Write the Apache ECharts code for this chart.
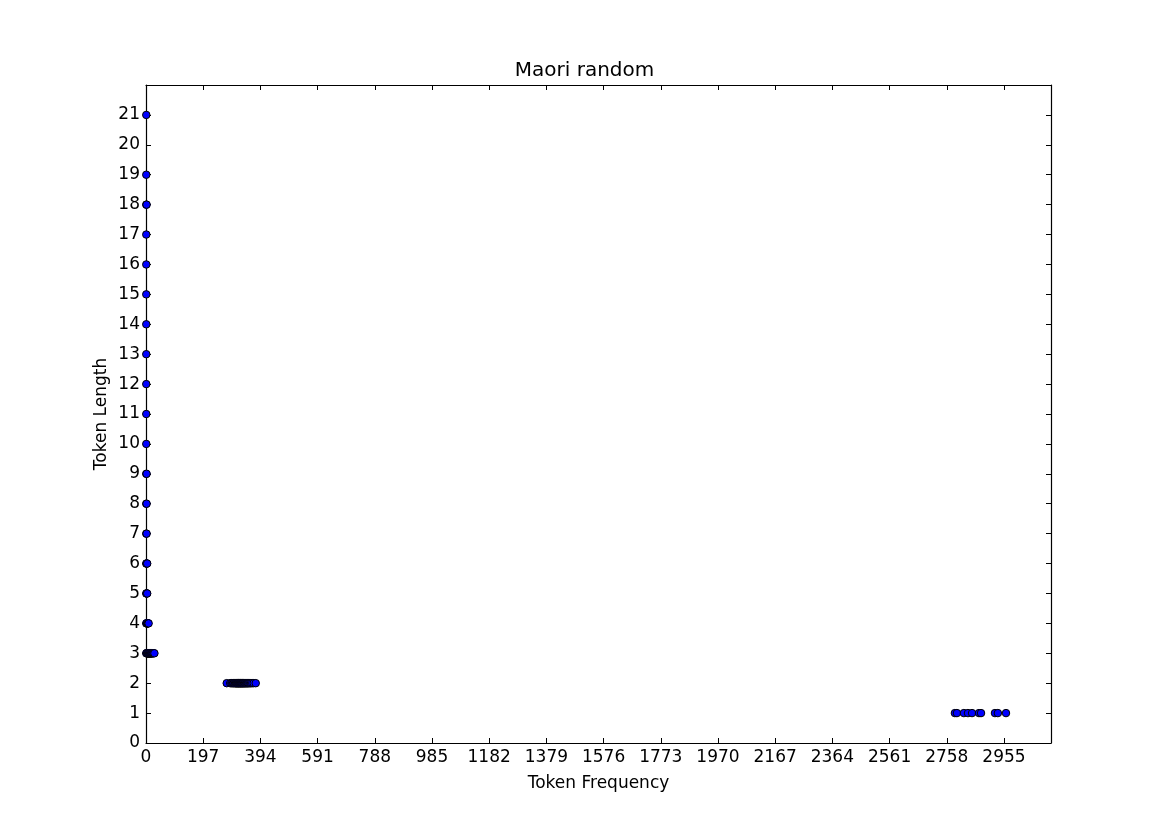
<!DOCTYPE html>
<html>
	<head>
		<meta charset="UTF-8">
		<title>Maori random</title>
		<script src="https://cdn.jsdelivr.net/npm/echarts@6/dist/echarts.min.js"></script>
		<style type="text/css">
			html, body { margin: 0; padding: 0; background: #fff; }
			#chart { width: 1169px; height: 827px; }
		</style>
	</head>
	<body>
		<div id="chart"></div>
		<script>
		// token frequency values, one list per token length
		var len1 = [2786, 2793, 2817, 2831, 2845, 2869, 2876, 2924, 2934, 2962];
		var len2 = [278, 290, 294, 297, 300, 302, 305, 307, 309, 310, 312, 313, 315, 316, 318,
			319, 320, 322, 323, 325, 326, 327, 329, 330, 332, 333, 335, 336, 338, 340,
			341, 343, 345, 347, 349, 351, 353, 356, 359, 362, 366, 371, 378];
		var len3 = [1, 2, 3, 4, 5, 6, 7, 8, 9, 10, 11, 12, 13, 14, 15, 16, 17, 18, 19, 20, 22, 24, 26, 29];
		var len4 = [1, 2, 3, 4, 5, 6, 7, 9];
		var len5 = [1, 2, 3, 4];
		var len6 = [1, 2, 3, 4];
		var len7 = [1, 2];
		var len8 = [1, 2];
		var len9 = [1, 2];
		var len10 = [1];
		var len11 = [1];
		var len12 = [1];
		var len13 = [1];
		var len14 = [1];
		var len15 = [1];
		var len16 = [1];
		var len17 = [1];
		var len18 = [1, 2];
		var len19 = [1];
		var len21 = [1];

		var lengths = [1, 2, 3, 4, 5, 6, 7, 8, 9, 10, 11, 12, 13, 14, 15, 16, 17, 18, 19, 21];
		var freqs = [len1, len2, len3, len4, len5, len6, len7, len8, len9, len10, len11, len12,
			len13, len14, len15, len16, len17, len18, len19, len21];

		var xTickStep = 197;
		var xMax = 3117;
		var yMax = 22;

		var points = [];
		for (var i = 0; i < lengths.length; i++) {
			for (var j = 0; j < freqs[i].length; j++) {
				points.push([freqs[i][j], lengths[i]]);
			}
		}

		var font = 'DejaVu Sans';
		var tick = { show: true, inside: true, length: 5, lineStyle: { color: '#000', width: 1 } };
		var line = { show: true, onZero: false, lineStyle: { color: '#000', width: 1.2 } };
		var plain = function (v) { return String(v); };

		var myChart = echarts.init(document.getElementById('chart'));
		var option = {
			animation: false,
			backgroundColor: '#fff',
			title: {
				text: 'Maori random',
				left: 'center',
				top: 56,
				textStyle: { fontFamily: font, fontSize: 20, fontWeight: 'normal', color: '#000' }
			},
			grid: { left: 146, right: 118, top: 85, bottom: 84, containLabel: false },
			xAxis: [
				{
					type: 'value', min: 0, max: xMax, interval: xTickStep,
					name: 'Token Frequency', nameLocation: 'middle', nameGap: 32,
					nameTextStyle: { fontFamily: font, fontSize: 17, color: '#000' },
					axisLine: line, axisTick: tick, splitLine: { show: false },
					axisLabel: { fontFamily: font, fontSize: 17, color: '#000', margin: 6, showMaxLabel: false, formatter: plain }
				},
				{
					type: 'value', position: 'top', min: 0, max: xMax, interval: xTickStep,
					axisLine: line, axisTick: tick, splitLine: { show: false },
					axisLabel: { show: false }
				}
			],
			yAxis: [
				{
					type: 'value', min: 0, max: yMax, interval: 1,
					name: 'Token Length', nameLocation: 'middle', nameGap: 36,
					nameMoveOverlap: false,
					nameTextStyle: { fontFamily: font, fontSize: 17, color: '#000' },
					axisLine: line, axisTick: tick, splitLine: { show: false },
					axisLabel: { fontFamily: font, fontSize: 17, color: '#000', margin: 6, showMaxLabel: false, formatter: plain }
				},
				{
					type: 'value', position: 'right', min: 0, max: yMax, interval: 1,
					axisLine: line, axisTick: tick, splitLine: { show: false },
					axisLabel: { show: false }
				}
			],
			series: [
				{
					type: 'scatter',
					xAxisIndex: 0,
					yAxisIndex: 0,
					symbol: 'circle',
					symbolSize: 7.5,
					itemStyle: { color: '#0000ff', borderColor: '#000', borderWidth: 1, opacity: 1 },
					data: points
				}
			]
		};
		myChart.setOption(option);
		</script>
	</body>
</html>
